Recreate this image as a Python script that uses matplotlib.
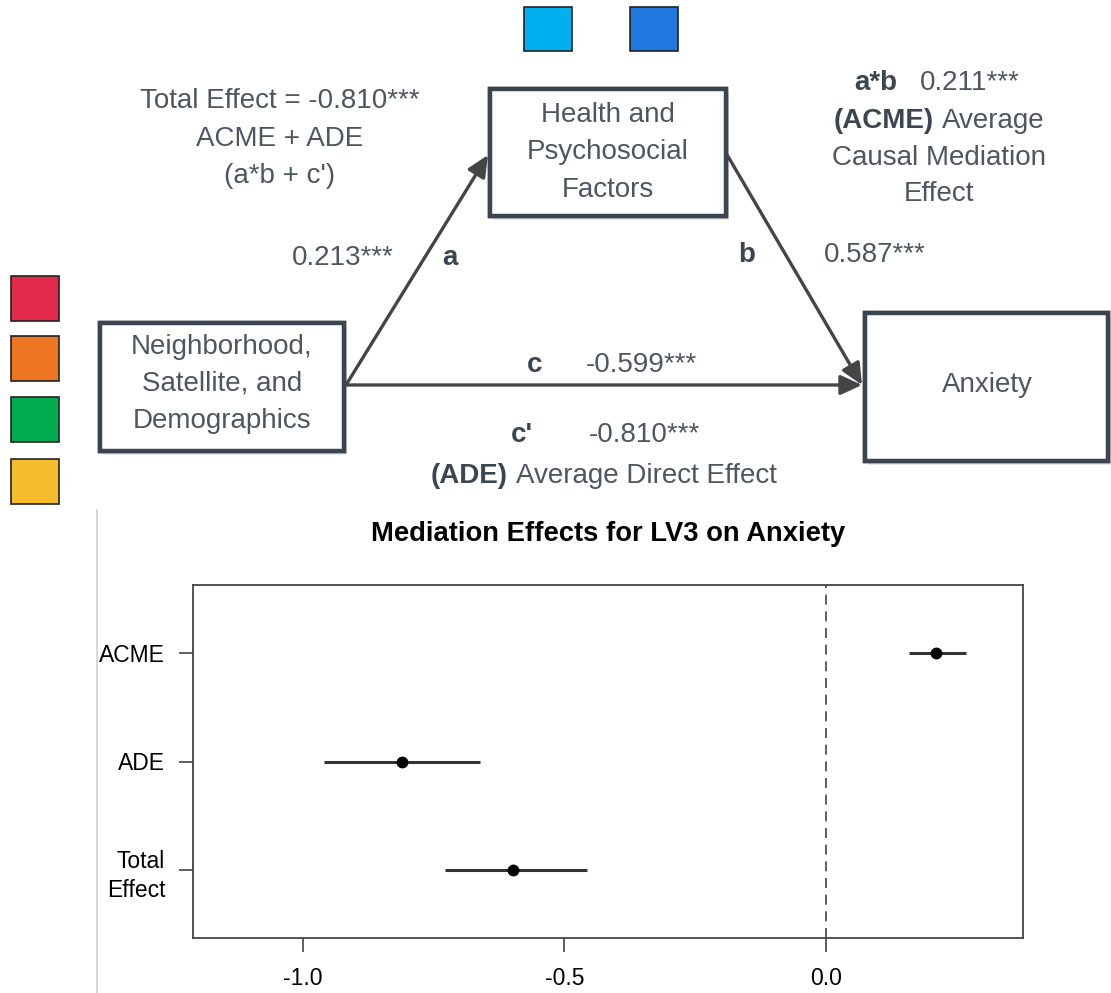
import numpy as np
import matplotlib
matplotlib.use("Agg")
import matplotlib.pyplot as plt
from matplotlib.patches import Rectangle, FancyArrowPatch
import matplotlib.patheffects as pe

plt.rcParams['font.family'] = ['Liberation Sans', 'DejaVu Sans']
plt.rcParams['axes.unicode_minus'] = False

# --- data: forest plot of mediation effects ---
effects = ['ACME', 'ADE', 'Total\nEffect']
estimate = [0.211, -0.810, -0.599]
ci_low = [0.159, -0.959, -0.728]
ci_high = [0.268, -0.662, -0.456]
xticks = [-1.0, -0.5, 0.0]
xtick_labels = ['-1.0', '-0.5', '0.0']

# --- data: path diagram text ---
node_x = ['Neighborhood,', 'Satellite, and', 'Demographics']
node_m = ['Health and', 'Psychosocial', 'Factors']
node_y = ['Anxiety']
coef_a = '0.213***'
coef_b = '0.587***'
coef_c = '-0.599***'
coef_cp = '-0.810***'
coef_ab = '0.211***'
total_lines = ['Total Effect = -0.810***', 'ACME + ADE', "(a*b + c')"]
side_colors = ['#E5294B', '#EE7623', '#00AC4F', '#F5BC2E']
top_colors = ['#00B0EE', '#1F78DD']

txt = '#4d5763'
txt_b = '#3c4652'
edge = '#3a4551'
arrow_col = '#454545'

fig = plt.figure(figsize=(11.11, 9.93), dpi=100)

# diagram layer in pixel coordinates
dax = fig.add_axes([0, 0, 1, 1])
dax.set_xlim(0, 1111)
dax.set_ylim(993, 0)
dax.axis('off')

shadow = [pe.withSimplePatchShadow(offset=(2, -3), shadow_rgbFace='gray', alpha=0.18), pe.Normal()]

# boxes: left, top, right, bottom
boxes = {'x': (100, 323, 344, 451), 'm': (490, 89, 726, 216), 'y': (865, 313, 1108, 461)}
for l, t, r, b in boxes.values():
    dax.add_patch(Rectangle((l, t), r - l, b - t, facecolor='white', edgecolor=edge,
                            lw=3.2, path_effects=shadow, zorder=3))

fs = 20
for lines, cx, base in [(node_x, 222, [354, 391, 428]),
                        (node_m, 608, [122, 159, 197]),
                        (node_y, 987, [392])]:
    for s, yb in zip(lines, base):
        dax.text(cx, yb, s, ha='center', va='baseline', fontsize=fs, color=txt, zorder=4)

# arrows a, b, c
arr = dict(arrowstyle='-|>,head_length=0.65,head_width=0.3', mutation_scale=20,
           color=arrow_col, lw=2.4, shrinkA=0, shrinkB=0, zorder=2)
for p0, p1 in [((346, 385), (488, 155)), ((726, 153), (862, 385)), ((346, 385), (862, 385))]:
    dax.add_patch(FancyArrowPatch(p0, p1, **arr))

# path labels
dax.text(343, 265, coef_a, ha='center', va='baseline', fontsize=fs, color=txt)
dax.text(450, 265, 'a', ha='center', va='baseline', fontsize=fs, color=txt_b, fontweight='bold')
dax.text(747, 262, 'b', ha='center', va='baseline', fontsize=fs, color=txt_b, fontweight='bold')
dax.text(875, 262, coef_b, ha='center', va='baseline', fontsize=fs, color=txt)
dax.text(535, 372, 'c', ha='center', va='baseline', fontsize=fs, color=txt_b, fontweight='bold')
dax.text(641, 372, coef_c, ha='center', va='baseline', fontsize=fs, color=txt)
dax.text(522, 442, "c'", ha='center', va='baseline', fontsize=fs, color=txt_b, fontweight='bold')
dax.text(644, 442, coef_cp, ha='center', va='baseline', fontsize=fs, color=txt)
dax.text(508, 483, '(ADE)', ha='right', va='baseline', fontsize=fs, color=txt_b, fontweight='bold')
dax.text(516, 483, 'Average Direct Effect', ha='left', va='baseline', fontsize=fs, color=txt)

for s, yb in zip(total_lines, [108, 146, 183]):
    dax.text(280, yb, s, ha='center', va='baseline', fontsize=fs, color=txt)

dax.text(897, 90, 'a*b', ha='right', va='baseline', fontsize=fs, color=txt_b, fontweight='bold')
dax.text(920, 90, coef_ab, ha='left', va='baseline', fontsize=fs, color=txt)
dax.text(934, 128, '(ACME)', ha='right', va='baseline', fontsize=fs, color=txt_b, fontweight='bold')
dax.text(942, 128, 'Average', ha='left', va='baseline', fontsize=fs, color=txt)
dax.text(939, 165, 'Causal Mediation', ha='center', va='baseline', fontsize=fs, color=txt)
dax.text(939, 201, 'Effect', ha='center', va='baseline', fontsize=fs, color=txt)

# colour squares
for c, t in zip(side_colors, [276, 336, 397, 459]):
    dax.add_patch(Rectangle((11, t), 48, 45, facecolor=c, edgecolor='#222', lw=1.2))
for c, l in zip(top_colors, [524, 630]):
    dax.add_patch(Rectangle((l, 7), 48, 44, facecolor=c, edgecolor='#222', lw=1.2))

# thin border of the embedded R plot
dax.plot([97, 97], [510, 993], color='#d0d0d0', lw=1.2)

# --- forest plot ---
ax = fig.add_axes([193 / 1111, 1 - 938 / 993, (1023 - 193) / 1111, (938 - 585) / 993])
ypos = np.arange(len(effects), 0, -1)
ax.hlines(ypos, ci_low, ci_high, color='#333333', lw=2.2)
ax.plot(estimate, ypos, 'o', color='black', ms=7.5)
ax.axvline(0, color='#444444', lw=1.2, linestyle=(0, (6, 4)))
ax.set_xlim(-1.21, 0.377)
ax.set_ylim(0.38, 3.62)
ax.set_xticks(xticks)
ax.set_xticklabels(xtick_labels)
ax.set_yticks(ypos)
ax.set_yticklabels(effects, linespacing=1.35)
ax.tick_params(axis='both', labelsize=16.5, length=10, width=1.1, color='#333333', direction='out')
ax.tick_params(axis='x', pad=11)
ax.tick_params(axis='y', pad=10)
for sp in ax.spines.values():
    sp.set_color('#444444')
    sp.set_linewidth(1.3)
ax.set_title('Mediation Effects for LV3 on Anxiety', fontsize=19.7, fontweight='bold', pad=32)

fig.savefig('out.png', dpi=100)
